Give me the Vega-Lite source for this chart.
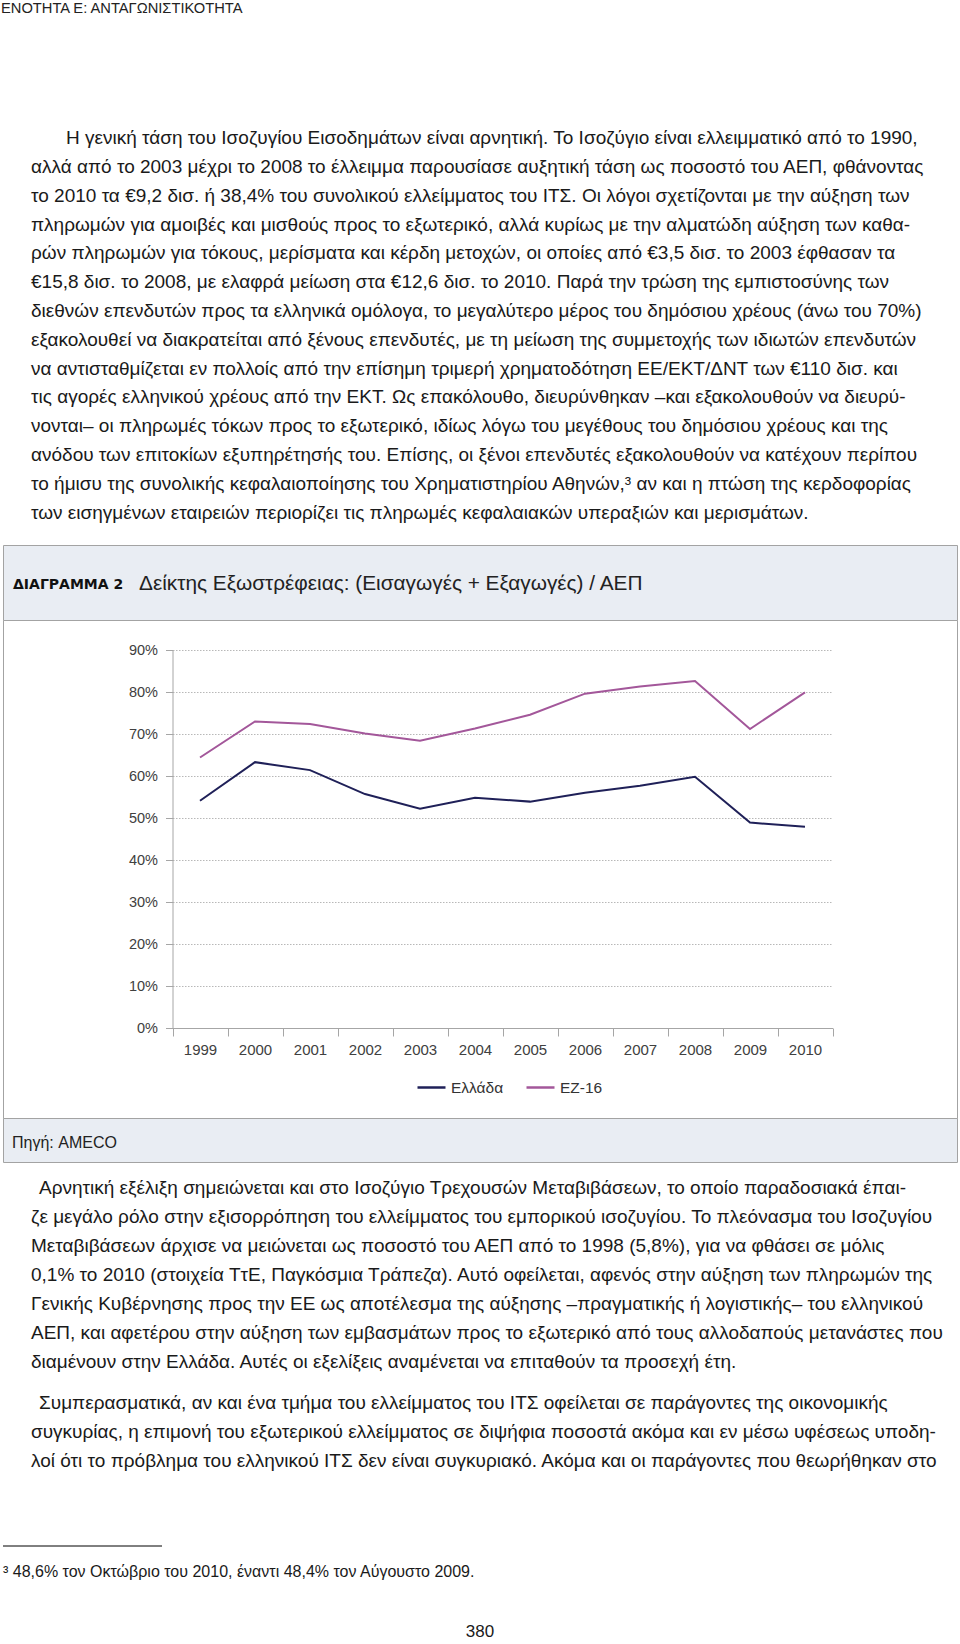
{
  "$schema": "https://vega.github.io/schema/vega-lite/v6.json",
  "padding": 0,
  "background": "white",
  "spacing": 0,
  "bounds": "flush",
  "center": true,
  "config": {
    "view": {"stroke": null},
    "font": "Liberation Sans",
    "text": {"font": "Liberation Sans"},
    "axis": {"labelFont": "Liberation Sans"},
    "legend": {"labelFont": "Liberation Sans"}
  },
  "datasets": {
    "p1": [
      {"line": 0, "text": "Η γενική τάση του Ισοζυγίου Εισοδημάτων είναι αρνητική. Το Ισοζύγιο είναι ελλειμματικό από το 1990,"},
      {"line": 1, "text": "αλλά από το 2003 μέχρι το 2008 το έλλειμμα παρουσίασε αυξητική τάση ως ποσοστό του ΑΕΠ, φθάνοντας"},
      {"line": 2, "text": "το 2010 τα €9,2 δισ. ή 38,4% του συνολικού ελλείμματος του ΙΤΣ. Οι λόγοι σχετίζονται με την αύξηση των"},
      {"line": 3, "text": "πληρωμών για αμοιβές και μισθούς προς το εξωτερικό, αλλά κυρίως με την αλματώδη αύξηση των καθα-"},
      {"line": 4, "text": "ρών πληρωμών για τόκους, μερίσματα και κέρδη μετοχών, οι οποίες από €3,5 δισ. το 2003 έφθασαν τα"},
      {"line": 5, "text": "€15,8 δισ. το 2008, με ελαφρά μείωση στα €12,6 δισ. το 2010. Παρά την τρώση της εμπιστοσύνης των"},
      {"line": 6, "text": "διεθνών επενδυτών προς τα ελληνικά ομόλογα, το μεγαλύτερο μέρος του δημόσιου χρέους (άνω του 70%)"},
      {"line": 7, "text": "εξακολουθεί να διακρατείται από ξένους επενδυτές, με τη μείωση της συμμετοχής των ιδιωτών επενδυτών"},
      {"line": 8, "text": "να αντισταθμίζεται εν πολλοίς από την επίσημη τριμερή χρηματοδότηση ΕΕ/ΕΚΤ/ΔΝΤ των €110 δισ. και"},
      {"line": 9, "text": "τις αγορές ελληνικού χρέους από την ΕΚΤ. Ως επακόλουθο, διευρύνθηκαν –και εξακολουθούν να διευρύ-"},
      {"line": 10, "text": "νονται– οι πληρωμές τόκων προς το εξωτερικό, ιδίως λόγω του μεγέθους του δημόσιου χρέους και της"},
      {"line": 11, "text": "ανόδου των επιτοκίων εξυπηρέτησής του. Επίσης, οι ξένοι επενδυτές εξακολουθούν να κατέχουν περίπου"},
      {"line": 12, "text": "το ήμισυ της συνολικής κεφαλαιοποίησης του Χρηματιστηρίου Αθηνών,³ αν και η πτώση της κερδοφορίας"},
      {"line": 13, "text": "των εισηγμένων εταιρειών περιορίζει τις πληρωμές κεφαλαιακών υπεραξιών και μερισμάτων."}
    ],
    "p2": [
      {"line": 0, "text": "Αρνητική εξέλιξη σημειώνεται και στο Ισοζύγιο Τρεχουσών Μεταβιβάσεων, το οποίο παραδοσιακά έπαι-"},
      {"line": 1, "text": "ζε μεγάλο ρόλο στην εξισορρόπηση του ελλείμματος του εμπορικού ισοζυγίου. Το πλεόνασμα του Ισοζυγίου"},
      {"line": 2, "text": "Μεταβιβάσεων άρχισε να μειώνεται ως ποσοστό του ΑΕΠ από το 1998 (5,8%), για να φθάσει σε μόλις"},
      {"line": 3, "text": "0,1% το 2010 (στοιχεία ΤτΕ, Παγκόσμια Τράπεζα). Αυτό οφείλεται, αφενός στην αύξηση των πληρωμών της"},
      {"line": 4, "text": "Γενικής Κυβέρνησης προς την ΕΕ ως αποτέλεσμα της αύξησης –πραγματικής ή λογιστικής– του ελληνικού"},
      {"line": 5, "text": "ΑΕΠ, και αφετέρου στην αύξηση των εμβασμάτων προς το εξωτερικό από τους αλλοδαπούς μετανάστες που"},
      {"line": 6, "text": "διαμένουν στην Ελλάδα. Αυτές οι εξελίξεις αναμένεται να επιταθούν τα προσεχή έτη."}
    ],
    "p3": [
      {"line": 0, "text": "Συμπερασματικά, αν και ένα τμήμα του ελλείμματος του ΙΤΣ οφείλεται σε παράγοντες της οικονομικής"},
      {"line": 1, "text": "συγκυρίας, η επιμονή του εξωτερικού ελλείμματος σε διψήφια ποσοστά ακόμα και εν μέσω υφέσεως υποδη-"},
      {"line": 2, "text": "λοί ότι το πρόβλημα του ελληνικού ΙΤΣ δεν είναι συγκυριακό. Ακόμα και οι παράγοντες που θεωρήθηκαν στο"}
    ],
    "chart": [
      {"year": "1999", "series": "Ελλάδα", "value": 54.1},
      {"year": "2000", "series": "Ελλάδα", "value": 63.3},
      {"year": "2001", "series": "Ελλάδα", "value": 61.4},
      {"year": "2002", "series": "Ελλάδα", "value": 55.7},
      {"year": "2003", "series": "Ελλάδα", "value": 52.2},
      {"year": "2004", "series": "Ελλάδα", "value": 54.8},
      {"year": "2005", "series": "Ελλάδα", "value": 53.9},
      {"year": "2006", "series": "Ελλάδα", "value": 56.0},
      {"year": "2007", "series": "Ελλάδα", "value": 57.7},
      {"year": "2008", "series": "Ελλάδα", "value": 59.8},
      {"year": "2009", "series": "Ελλάδα", "value": 48.9},
      {"year": "2010", "series": "Ελλάδα", "value": 47.9},
      {"year": "1999", "series": "ΕΖ-16", "value": 64.4},
      {"year": "2000", "series": "ΕΖ-16", "value": 73.0},
      {"year": "2001", "series": "ΕΖ-16", "value": 72.4},
      {"year": "2002", "series": "ΕΖ-16", "value": 70.1},
      {"year": "2003", "series": "ΕΖ-16", "value": 68.4},
      {"year": "2004", "series": "ΕΖ-16", "value": 71.3},
      {"year": "2005", "series": "ΕΖ-16", "value": 74.6},
      {"year": "2006", "series": "ΕΖ-16", "value": 79.6},
      {"year": "2007", "series": "ΕΖ-16", "value": 81.3},
      {"year": "2008", "series": "ΕΖ-16", "value": 82.6},
      {"year": "2009", "series": "ΕΖ-16", "value": 71.2},
      {"year": "2010", "series": "ΕΖ-16", "value": 79.9}
    ]
  },
  "vconcat": [
    {
      "width": 960,
      "height": 545,
      "layer": [
        {
          "data": {"values": [{"text": "ΕΝΟΤΗΤΑ Ε: ΑΝΤΑΓΩΝΙΣΤΙΚΟΤΗΤΑ"}]},
          "mark": {"type": "text", "align": "left", "baseline": "middle", "fontSize": 14.7, "color": "#222222"},
          "encoding": {"x": {"value": 1}, "y": {"value": 9}, "text": {"field": "text"}}
        },
        {
          "data": {"name": "p1"},
          "transform": [{"filter": "datum.line === 0"}],
          "mark": {"type": "text", "align": "left", "baseline": "middle", "fontSize": 19, "color": "#1a1a1a"},
          "encoding": {
            "x": {"value": 66},
            "y": {"field": "line", "type": "quantitative", "scale": {"domain": [0, 13], "range": [138.3, 512.5], "nice": false, "zero": false}, "axis": null},
            "text": {"field": "text"}
          }
        },
        {
          "data": {"name": "p1"},
          "transform": [{"filter": "datum.line > 0"}],
          "mark": {"type": "text", "align": "left", "baseline": "middle", "fontSize": 19, "color": "#1a1a1a"},
          "encoding": {
            "x": {"value": 31},
            "y": {"field": "line", "type": "quantitative", "scale": {"domain": [0, 13], "range": [138.3, 512.5], "nice": false, "zero": false}, "axis": null},
            "text": {"field": "text"}
          }
        }
      ]
    },
    {
      "width": 954,
      "height": 75,
      "view": {"fill": "#e9edf3", "stroke": "#a3a3a3", "strokeWidth": 1},
      "data": {"values": [{"k": "ΔΙΑΓΡΑΜΜΑ 2", "t": "Δείκτης Εξωστρέφειας: (Εισαγωγές + Εξαγωγές) / ΑΕΠ"}]},
      "layer": [
        {
          "mark": {"type": "text", "align": "left", "baseline": "middle", "fontSize": 14, "font": "DejaVu Sans", "fontWeight": "bold", "color": "#111111"},
          "encoding": {"x": {"value": 10}, "y": {"value": 40}, "text": {"field": "k"}}
        },
        {
          "mark": {"type": "text", "align": "left", "baseline": "middle", "fontSize": 20.8, "color": "#222222"},
          "encoding": {"x": {"value": 136}, "y": {"value": 39}, "text": {"field": "t"}}
        }
      ]
    },
    {
      "width": 954,
      "height": 498,
      "view": {"fill": "white", "stroke": "#a3a3a3", "strokeWidth": 1},
      "data": {"name": "chart"},
      "mark": {"type": "line", "strokeWidth": 2},
      "encoding": {
        "x": {
          "field": "year",
          "type": "ordinal",
          "bandPosition": 0.5,
          "scale": {"type": "band", "range": [169.5, 829.5], "paddingInner": 0, "paddingOuter": 0},
          "axis": {"title": null, "orient": "bottom", "offset": -90, "tickBand": "extent", "tickSize": 8, "labelPadding": 6, "labelAngle": 0, "labelFontSize": 15, "labelColor": "#404040", "domainColor": "#a6a6a6", "tickColor": "#a6a6a6", "grid": false}
        },
        "y": {
          "field": "value",
          "type": "quantitative",
          "scale": {"domain": [0, 90], "range": [408, 30], "nice": false, "zero": true},
          "axis": {"title": null, "values": [0, 10, 20, 30, 40, 50, 60, 70, 80, 90], "labelExpr": "datum.value + '%'", "offset": -169.5, "tickSize": 7, "labelPadding": 8, "labelFontSize": 14.5, "labelColor": "#404040", "domainColor": "#a6a6a6", "tickColor": "#a6a6a6", "grid": true, "gridColor": "#b8b8b8", "gridDash": [1.5, 1.5]}
        },
        "color": {
          "field": "series",
          "type": "nominal",
          "scale": {"domain": ["Ελλάδα", "ΕΖ-16"], "range": ["#1f2058", "#a3579a"]},
          "legend": {"orient": "none", "legendX": 416, "legendY": 1072, "direction": "horizontal", "title": null, "symbolType": "stroke", "symbolSize": 784, "symbolStrokeWidth": 2.5, "labelFontSize": 15.5, "labelOffset": 4, "columnPadding": 17, "padding": 0, "labelColor": "#333333"}
        }
      }
    },
    {
      "width": 954,
      "height": 44,
      "view": {"fill": "#e9edf3", "stroke": "#a3a3a3", "strokeWidth": 1},
      "data": {"values": [{"t": "Πηγή: AMECO"}]},
      "mark": {"type": "text", "align": "left", "baseline": "middle", "fontSize": 16, "color": "#222222"},
      "encoding": {"x": {"value": 9}, "y": {"value": 25}, "text": {"field": "t"}}
    },
    {
      "width": 960,
      "height": 482,
      "resolve": {"scale": {"y": "independent"}},
      "layer": [
        {
          "data": {"name": "p2"},
          "transform": [{"filter": "datum.line === 0"}],
          "mark": {"type": "text", "align": "left", "baseline": "middle", "fontSize": 19, "color": "#1a1a1a"},
          "encoding": {
            "x": {"value": 39},
            "y": {"field": "line", "type": "quantitative", "scale": {"domain": [0, 6], "range": [26.4, 200.4], "nice": false, "zero": false}, "axis": null},
            "text": {"field": "text"}
          }
        },
        {
          "data": {"name": "p2"},
          "transform": [{"filter": "datum.line > 0"}],
          "mark": {"type": "text", "align": "left", "baseline": "middle", "fontSize": 19, "color": "#1a1a1a"},
          "encoding": {
            "x": {"value": 31},
            "y": {"field": "line", "type": "quantitative", "scale": {"domain": [0, 6], "range": [26.4, 200.4], "nice": false, "zero": false}, "axis": null},
            "text": {"field": "text"}
          }
        },
        {
          "data": {"name": "p3"},
          "transform": [{"filter": "datum.line === 0"}],
          "mark": {"type": "text", "align": "left", "baseline": "middle", "fontSize": 19, "color": "#1a1a1a"},
          "encoding": {
            "x": {"value": 39},
            "y": {"field": "line", "type": "quantitative", "scale": {"domain": [0, 2], "range": [241.3, 298.9], "nice": false, "zero": false}, "axis": null},
            "text": {"field": "text"}
          }
        },
        {
          "data": {"name": "p3"},
          "transform": [{"filter": "datum.line > 0"}],
          "mark": {"type": "text", "align": "left", "baseline": "middle", "fontSize": 19, "color": "#1a1a1a"},
          "encoding": {
            "x": {"value": 31},
            "y": {"field": "line", "type": "quantitative", "scale": {"domain": [0, 2], "range": [241.3, 298.9], "nice": false, "zero": false}, "axis": null},
            "text": {"field": "text"}
          }
        },
        {
          "data": {"values": [{"k": "rule"}]},
          "mark": {"type": "rule", "color": "#000000", "strokeWidth": 1},
          "encoding": {"x": {"value": 3}, "x2": {"value": 162}, "y": {"value": 384}}
        },
        {
          "data": {"values": [{"t": "³ 48,6% τον Οκτώβριο του 2010, έναντι 48,4% τον Αύγουστο 2009."}]},
          "mark": {"type": "text", "align": "left", "baseline": "middle", "fontSize": 16, "color": "#1a1a1a"},
          "encoding": {"x": {"value": 3}, "y": {"value": 410}, "text": {"field": "t"}}
        },
        {
          "data": {"values": [{"t": "380"}]},
          "mark": {"type": "text", "align": "center", "baseline": "middle", "fontSize": 17, "color": "#1a1a1a"},
          "encoding": {"x": {"value": 480}, "y": {"value": 470}, "text": {"field": "t"}}
        }
      ]
    }
  ]
}
